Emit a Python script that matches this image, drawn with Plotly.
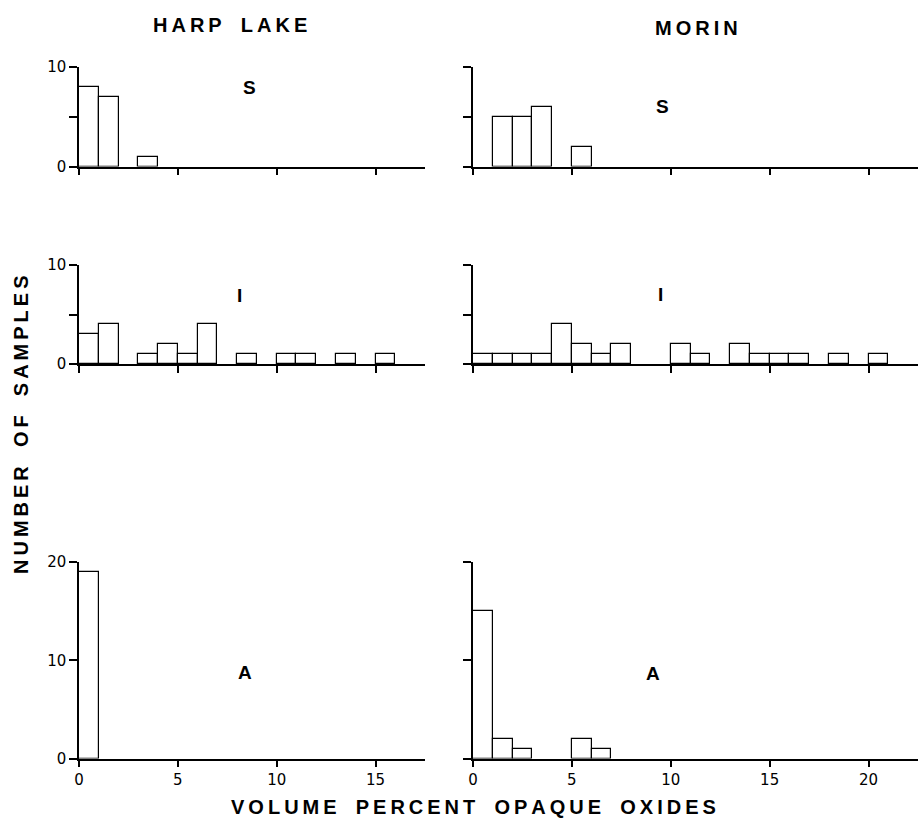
import plotly.graph_objects as go

# ---- data: counts per 1% bin starting at 0 (bin i covers i..i+1) ----
harp_S = [8, 7, 0, 1]
harp_I = [3, 4, 0, 1, 2, 1, 4, 0, 1, 0, 1, 1, 0, 1, 0, 1]
harp_A = [19]
morin_S = [0, 5, 5, 6, 0, 2]
morin_I = [1, 1, 1, 1, 4, 2, 1, 2, 0, 0, 2, 1, 0, 2, 1, 1, 1, 0, 1, 0, 1]
morin_A = [15, 2, 1, 0, 0, 2, 1]

col_titles = ["HARP LAKE", "MORIN"]
row_letters = ["S", "I", "A"]
x_title = "VOLUME PERCENT OPAQUE OXIDES"
y_title = "NUMBER OF SAMPLES"
left_xticks = [0, 5, 10, 15]
right_xticks = [0, 5, 10, 15, 20]

W, H = 919, 826
FONT_T = "Liberation Sans"
FONT_N = "DejaVu Sans"


def spaced(s, gap="\u2009", word="\u00a0\u00a0"):
    out = []
    for ch in s:
        out.append(word if ch == " " else ch)
    return gap.join(out)


def px_x(a, b):
    return [a / W, b / W]


def px_y(top, bottom):
    return [1 - bottom / H, 1 - top / H]


fig = go.Figure()

panels = [
    # (data, col, row, yrange, yticks, yticktext)
    (harp_S, 0, 0, 10, [0, 5, 10], ["0", "", "10"]),
    (morin_S, 1, 0, 10, [0, 5, 10], ["", "", ""]),
    (harp_I, 0, 1, 10, [0, 5, 10], ["0", "", "10"]),
    (morin_I, 1, 1, 10, [0, 5, 10], ["", "", ""]),
    (harp_A, 0, 2, 20, [0, 10, 20], ["0", "10", "20"]),
    (morin_A, 1, 2, 20, [0, 10, 20], ["", "", ""]),
]

xdom = [px_x(79, 425), px_x(473, 918)]
xmax = [17.5, 22.5]
ydom = [px_y(67, 166.5), px_y(265, 364), px_y(562, 758.5)]
letter_pos = [
    [(8.6, 7.9), (9.6, 6.0)],
    [(8.1, 6.9), (9.5, 7.0)],
    [(8.4, 8.75), (9.1, 8.7)],
]

layout = {}
annotations = []
for k, (data, c, r, ymax, ytv, ytt) in enumerate(panels):
    idx = k + 1
    xa = "x" if idx == 1 else f"x{idx}"
    ya = "y" if idx == 1 else f"y{idx}"
    xs = [i + 0.5 for i, v in enumerate(data) if v > 0]
    ys = [v for v in data if v > 0]
    fig.add_trace(go.Bar(
        x=xs, y=ys, width=1, xaxis=xa, yaxis=ya,
        marker=dict(color="white", line=dict(color="black", width=1.2)),
        showlegend=False, hoverinfo="skip",
    ))
    bottom = (r == 2)
    xt = left_xticks if c == 0 else right_xticks
    layout[("xaxis" if idx == 1 else f"xaxis{idx}")] = dict(
        domain=xdom[c], range=[0, xmax[c]], anchor=ya, automargin=False,
        showline=True, linecolor="black", linewidth=1.5,
        ticks="outside", ticklen=7, tickwidth=1.5, tickcolor="black",
        tickvals=xt, ticktext=[str(t) for t in xt],
        showticklabels=bottom, showgrid=False, zeroline=False,
        tickfont=dict(family=FONT_N, size=15, color="black"),
        fixedrange=True,
    )
    layout[("yaxis" if idx == 1 else f"yaxis{idx}")] = dict(
        domain=ydom[r], range=[0, ymax], anchor=xa, automargin=False,
        showline=True, linecolor="black", linewidth=1.5,
        ticks="outside", ticklen=8, tickwidth=1.5, tickcolor="black",
        tickvals=ytv, ticktext=ytt, showgrid=False, zeroline=False,
        tickfont=dict(family=FONT_N, size=15, color="black"),
        fixedrange=True,
    )
    lx, ly = letter_pos[r][c]
    annotations.append(dict(
        x=lx, y=ly, xref=xa, yref=ya, text=row_letters[r], showarrow=False,
        xanchor="center", yanchor="middle",
        font=dict(family=FONT_T, size=19, color="black", weight="bold"),
    ))


def paper_text(text, cx, cy, angle=0):
    return dict(x=cx / W, y=1 - cy / H, xref="paper", yref="paper",
                text=spaced(text), showarrow=False, textangle=angle,
                xanchor="center", yanchor="middle",
                font=dict(family=FONT_T, size=20, color="black", weight="bold"))


annotations.append(paper_text(col_titles[0], 230, 25))
annotations.append(paper_text(col_titles[1], 696, 28))
annotations.append(paper_text(x_title, 474, 807))
annotations.append(paper_text(y_title, 21, 425, angle=-90))

fig.update_layout(
    template="none",
    width=W, height=H, margin=dict(l=0, r=0, t=0, b=0, autoexpand=False),
    paper_bgcolor="white", plot_bgcolor="white",
    bargap=0, annotations=annotations, **layout,
)

fig.write_html("out.html", config={"displayModeBar": False})
